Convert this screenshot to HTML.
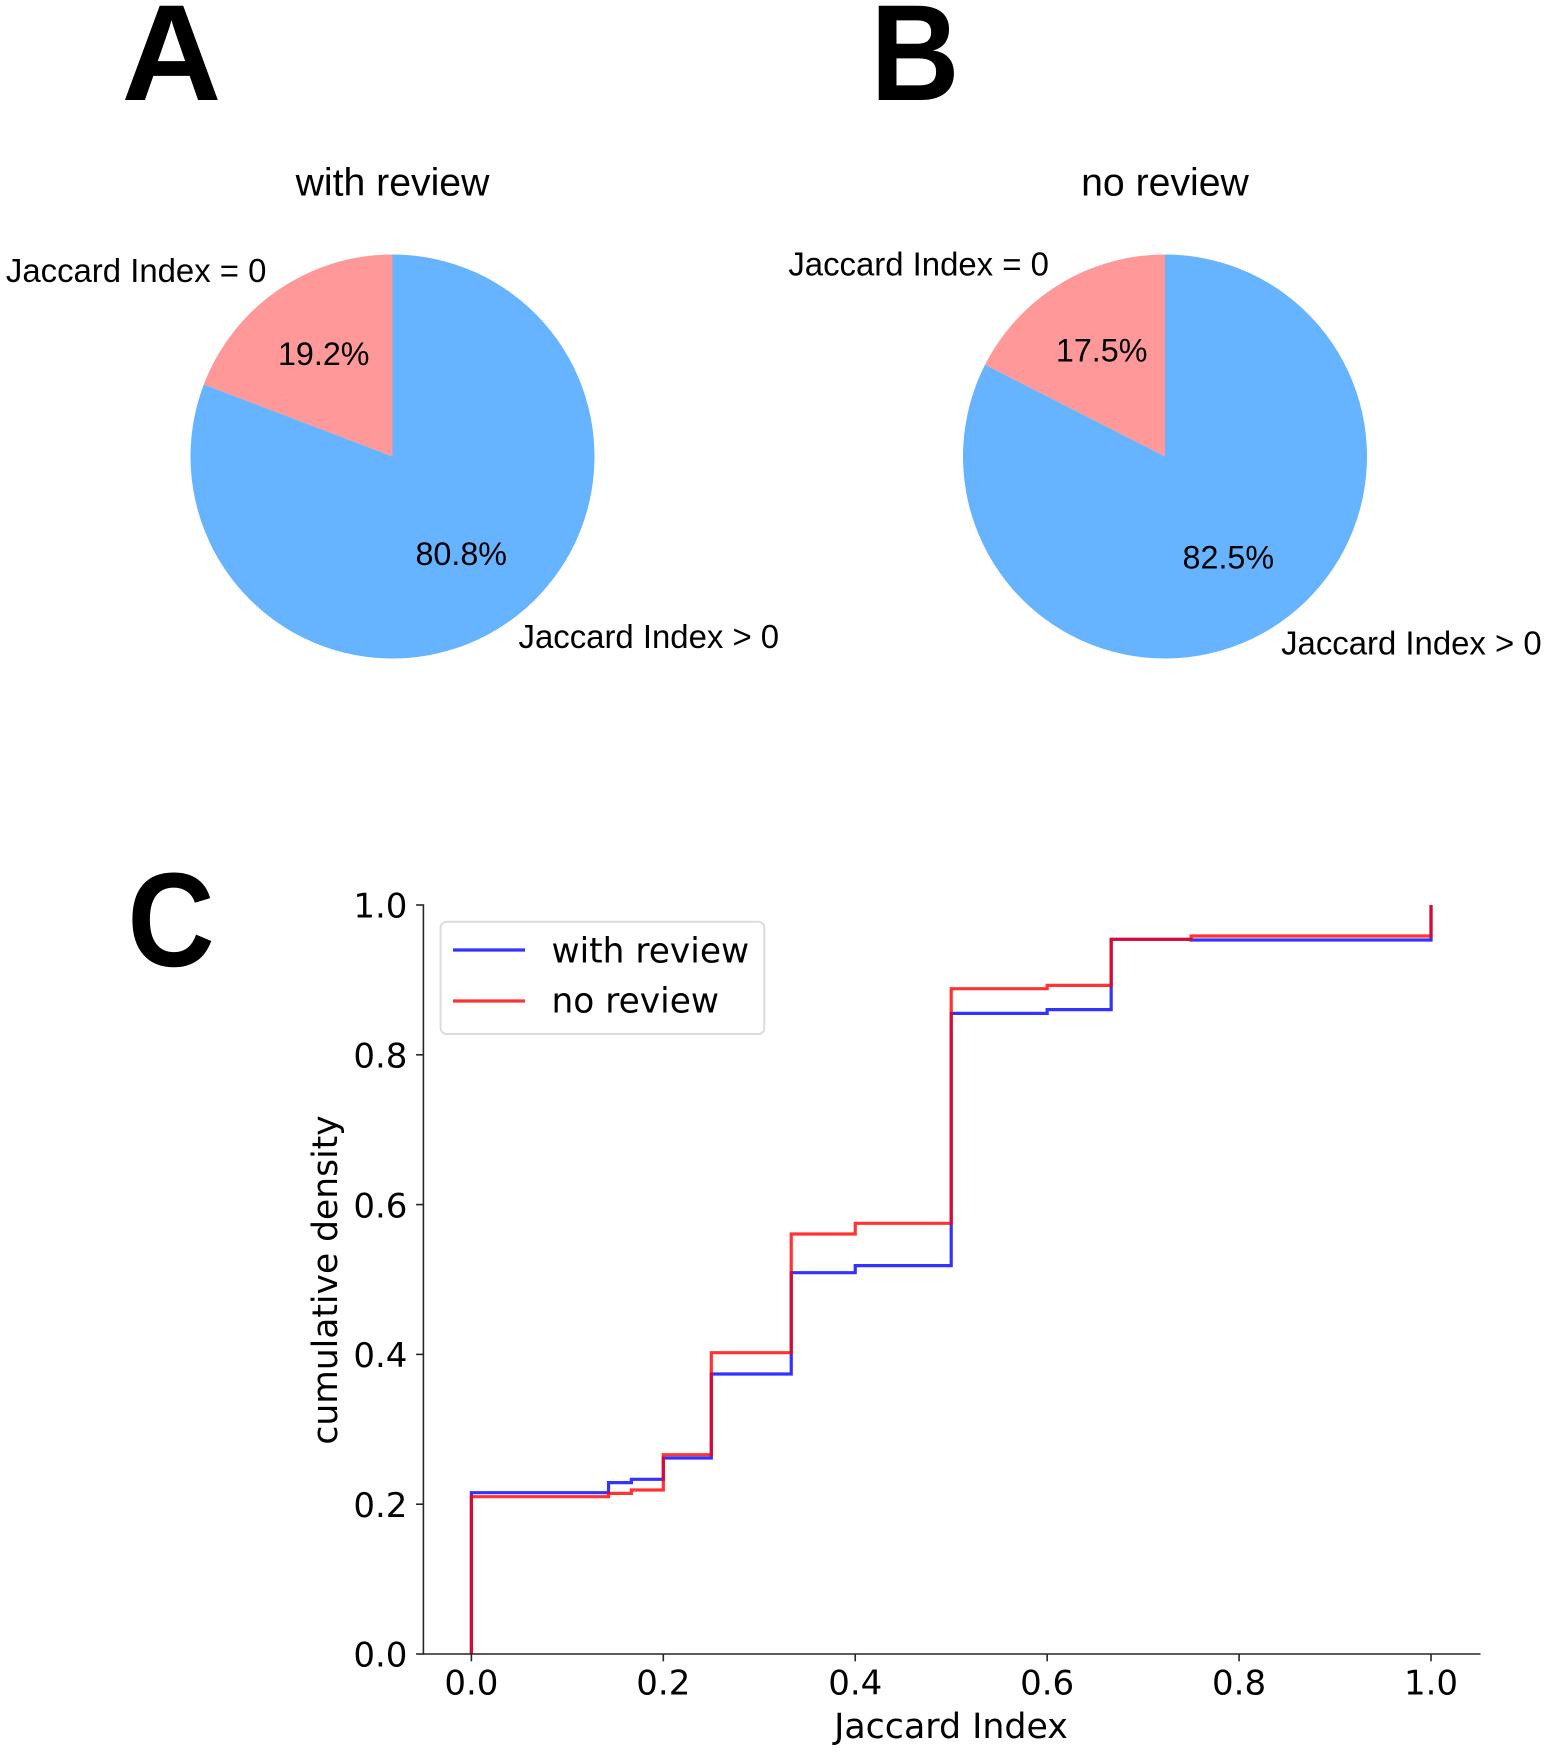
<!DOCTYPE html>
<html lang="en">
<head>
<meta charset="utf-8">
<title>Jaccard Index comparison: with review and no review</title>
<style>
  html, body { margin: 0; padding: 0; background: #fff; }
  body { width: 1547px; height: 1752px; overflow: hidden; }
  svg { display: block; }
  .sans { font-family: "Liberation Sans", Arial, sans-serif; fill: #000; }
  .dv { font-family: "DejaVu Sans", sans-serif; fill: #000; }
  .panel { font-family: "Liberation Sans", Arial, sans-serif; font-weight: 700; fill: #000; text-anchor: middle; }
</style>
</head>
<body>
<svg id="fig" xmlns="http://www.w3.org/2000/svg" width="1547" height="1752" viewBox="0 0 1547 1752">
  <rect width="1547" height="1752" fill="#fff"/>

  <text class="panel" font-size="137" transform="translate(171.5 100) scale(1.01 1)">A</text>
  <text class="panel" font-size="137" transform="translate(915 100) scale(0.9 1)">B</text>
  <text class="panel" font-size="134" transform="translate(171 966) scale(0.9 1)">C</text>

  <g id="pie-a">
    <text class="sans" x="392.5" y="195.5" font-size="39.2" text-anchor="middle">with review</text>
  </g>
  <g id="pie-b">
    <text class="sans" x="1165" y="195.5" font-size="39.2" text-anchor="middle">no review</text>
  </g>

  <g id="cdf">
    <g id="cdf-series"></g>
    <g id="cdf-axes"></g>
    <text class="dv" x="951" y="1738" font-size="34.8" text-anchor="middle">Jaccard Index</text>
    <text class="dv" transform="translate(337 1280) rotate(-90)" font-size="34.5" text-anchor="middle">cumulative density</text>

    <g>
      <rect x="440.6" y="921.7" width="323.7" height="112.3" rx="6" ry="6" fill="#fff" stroke="#dcdcdc" stroke-width="2"/>
      <line x1="453" y1="950" x2="525" y2="950" stroke="#0000ff" stroke-opacity="0.8" stroke-width="3.2"/>
      <text class="dv" x="551.5" y="962.5" font-size="34.4">with review</text>
      <line x1="453" y1="1001" x2="525" y2="1001" stroke="#ff0000" stroke-opacity="0.8" stroke-width="3.2"/>
      <text class="dv" x="551.5" y="1012.5" font-size="34.4">no review</text>
    </g>
  </g>
</svg>

<script>
// ---- Pie chart data ----
var pieLabels = ['Jaccard Index = 0', 'Jaccard Index > 0'];
var pieColors = ['#ff9999', '#66b3ff'];
var pieWithReview = [19.2, 80.8];
var pieNoReview = [17.5, 82.5];

// ---- CDF chart data ----
var jaccardSteps = [0, 0.1429, 0.1667, 0.2, 0.25, 0.3333, 0.4, 0.5, 0.6, 0.6667, 0.75, 1.0];
var withReviewCdf = [0.2154, 0.2288, 0.2332, 0.2617, 0.3738, 0.5091, 0.5185, 0.8553, 0.8603, 0.9542, 0.9533, 1.0];
var noReviewCdf = [0.2100, 0.2145, 0.2190, 0.2661, 0.4023, 0.5607, 0.5750, 0.8883, 0.8927, 0.9542, 0.9586, 1.0];
var xTickValues = [0, 0.2, 0.4, 0.6, 0.8, 1.0];
var yTickValues = [0, 0.2, 0.4, 0.6, 0.8, 1.0];
var xTickLabels = ['0.0', '0.2', '0.4', '0.6', '0.8', '1.0'];
var yTickLabels = ['0.0', '0.2', '0.4', '0.6', '0.8', '1.0'];

var NS = 'http://www.w3.org/2000/svg';
function make(tag, attrs, parent) {
  var el = document.createElementNS(NS, tag);
  for (var k in attrs) { el.setAttribute(k, attrs[k]); }
  parent.appendChild(el);
  return el;
}

// ---- Pies ----
function drawPie(groupId, values, cx, cy, r) {
  var group = document.getElementById(groupId);
  var total = values.reduce(function (a, b) { return a + b; }, 0);
  var angle = 90;
  values.forEach(function (v, i) {
    var sweep = v / total * 360;
    var a0 = angle * Math.PI / 180;
    var a1 = (angle + sweep) * Math.PI / 180;
    var mid = (angle + sweep / 2) * Math.PI / 180;
    var d = 'M' + cx + ' ' + cy +
      ' L' + (cx + r * Math.cos(a0)) + ' ' + (cy - r * Math.sin(a0)) +
      ' A' + r + ' ' + r + ' 0 ' + (sweep > 180 ? 1 : 0) + ' 0 ' +
      (cx + r * Math.cos(a1)) + ' ' + (cy - r * Math.sin(a1)) + ' Z';
    var slice = make('path', { d: d, fill: pieColors[i] }, group);
    
    

    var pct = make('text', {
      'class': 'sans', 'font-size': 32.3, 'text-anchor': 'middle',
      x: cx + 0.6 * r * Math.cos(mid), y: cy - 0.6 * r * Math.sin(mid) + 8.5
    }, group);
    pct.textContent = v.toFixed(1) + '%';
    
    

    var lx = cx + 1.1 * r * Math.cos(mid);
    var lab = make('text', {
      'class': 'sans', 'font-size': 32.9,
      'text-anchor': Math.cos(mid) < 0 ? 'end' : 'start',
      x: lx, y: cy - 1.1 * r * Math.sin(mid) + 8.5
    }, group);
    lab.textContent = pieLabels[i];
    
    

    angle += sweep;
  });
}
drawPie('pie-a', pieWithReview, 392.5, 456.5, 202);
drawPie('pie-b', pieNoReview, 1165, 456.5, 202);

// ---- CDF axis functions ----
var xMin = -0.05, xMax = 1.05, yMin = 0, yMax = 1;
var plotLeft = 423.4, plotRight = 1479.0, plotBottom = 1654, plotTop = 905;
function xScale(v) { return plotLeft + (v - xMin) / (xMax - xMin) * (plotRight - plotLeft); }
function yScale(v) { return plotBottom - (v - yMin) / (yMax - yMin) * (plotBottom - plotTop); }

function stepPath(xs, ys) {
  var d = 'M' + xScale(xs[0]) + ' ' + yScale(0);
  for (var i = 0; i < xs.length; i++) {
    d += ' L' + xScale(xs[i]) + ' ' + yScale(i === 0 ? 0 : ys[i - 1]);
    d += ' L' + xScale(xs[i]) + ' ' + yScale(ys[i]);
    if (i < xs.length - 1) {
      d += ' L' + xScale(xs[i + 1]) + ' ' + yScale(ys[i]);
    }
  }
  return d;
}

var seriesGroup = document.getElementById('cdf-series');
var blueLine = make('path', {
  d: stepPath(jaccardSteps, withReviewCdf), fill: 'none', stroke: '#0000ff',
  'stroke-opacity': 0.8, 'stroke-width': 3.2, 'stroke-linejoin': 'miter'
}, seriesGroup);



var redLine = make('path', {
  d: stepPath(jaccardSteps, noReviewCdf), fill: 'none', stroke: '#ff0000',
  'stroke-opacity': 0.8, 'stroke-width': 3.2, 'stroke-linejoin': 'miter'
}, seriesGroup);



// ---- Axes ----
var axes = document.getElementById('cdf-axes');
var axisColor = '#262626';
var leftSpine = make('line', { x1: plotLeft, y1: plotTop - 0.8, x2: plotLeft, y2: plotBottom + 0.8, stroke: axisColor, 'stroke-width': 1.6 }, axes);


var bottomSpine = make('line', { x1: plotLeft, y1: plotBottom, x2: plotRight + 1.5, y2: plotBottom, stroke: axisColor, 'stroke-width': 1.6 }, axes);



xTickValues.forEach(function (v, i) {
  var tick = make('line', { x1: xScale(v), y1: plotBottom, x2: xScale(v), y2: plotBottom + 7.3, stroke: axisColor, 'stroke-width': 1.6 }, axes);
  
  
  var label = make('text', { 'class': 'dv', 'font-size': 34, 'text-anchor': 'middle', x: xScale(v), y: plotBottom + 40.7 }, axes);
  label.textContent = xTickLabels[i];
  
  
});

yTickValues.forEach(function (v, i) {
  var tick = make('line', { x1: plotLeft - 7.3, y1: yScale(v), x2: plotLeft, y2: yScale(v), stroke: axisColor, 'stroke-width': 1.6 }, axes);
  
  
  var label = make('text', { 'class': 'dv', 'font-size': 34, 'text-anchor': 'end', x: plotLeft - 16, y: yScale(v) + 12.7 }, axes);
  label.textContent = yTickLabels[i];
  
  
});
</script>
</body>
</html>
